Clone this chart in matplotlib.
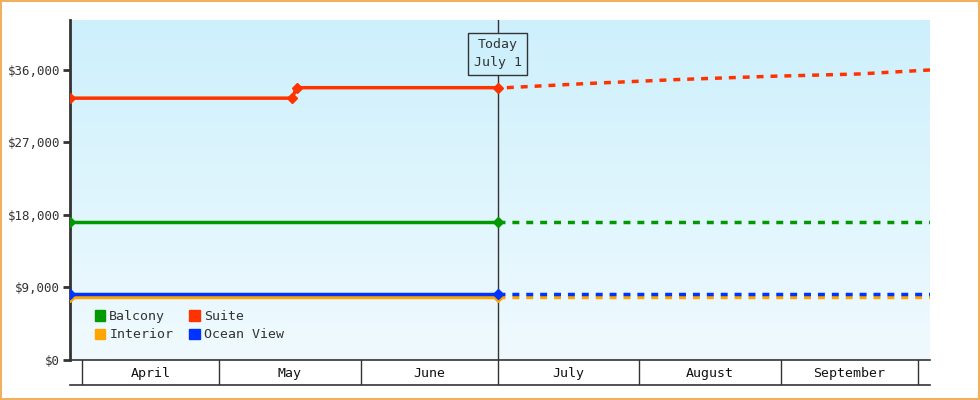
import matplotlib
matplotlib.use("Agg")
import matplotlib.pyplot as plt
import numpy as np
from matplotlib.patches import Rectangle

plt.rcParams['font.family'] = ['DejaVu Sans Mono']

# days relative to April 1
months = ["April", "May", "June", "July", "August", "September"]
month_starts = [0, 30, 61, 91, 122, 153, 183]
x_min, x_max = -2.6, 185.6
today = 91

suite_x = [-2.6, 46, 47, 91]
suite_y = [32500, 32500, 33800, 33800]
suite_fx = [91, 93, 110, 130, 150, 170, 185.6]
suite_fy = [33800, 33800, 34300, 34800, 35200, 35500, 36000]
balcony = 17100
ocean = 8200
interior = 7800

ORANGE_RED = "#ff3300"
GREEN = "#009900"
BLUE = "#0033ff"
AMBER = "#ffa500"

fig = plt.figure(figsize=(9.8, 4), dpi=100)
fig.patches.append(Rectangle((0.001, 0.002), 0.998, 0.996, transform=fig.transFigure,
                             fill=False, edgecolor="#f0b060", lw=1.5))
ax = fig.add_axes([70/980, 40/400, 860/980, 340/400])
ax.set_xlim(x_min, x_max)
ax.set_ylim(0, 42200)
grad = np.linspace(0, 1, 256).reshape(-1, 1)
from matplotlib.colors import LinearSegmentedColormap
cm = LinearSegmentedColormap.from_list("g", ["#f0fafe", "#cdf0fc"])
ax.imshow(grad, aspect="auto", cmap=cm, extent=[x_min, x_max, 0, 42200], origin="lower", zorder=0)

for k in ["top", "right", "bottom"]:
    ax.spines[k].set_visible(False)
ax.spines["left"].set_color("#333333")
ax.spines["left"].set_linewidth(2)
ax.set_yticks([0, 9000, 18000, 27000, 36000])
ax.set_yticklabels(["$0", "$9,000", "$18,000", "$27,000", "$36,000"], fontsize=9, color="#333333")
ax.tick_params(axis="y", length=5, width=2, color="#333333", pad=2)
ax.set_xticks([])

kw = dict(lw=2.5, marker="D", markersize=5, markevery=None)
ax.plot([x_min, today], [interior]*2, color=AMBER, marker="D", ms=5, lw=2.5, zorder=3)
ax.plot([today, x_max], [interior]*2, color=AMBER, lw=2.5, ls=(0, (2, 2)), zorder=3)
ax.plot([x_min, today], [ocean]*2, color=BLUE, marker="D", ms=5, lw=2.5, zorder=3)
ax.plot([today, x_max], [ocean]*2, color=BLUE, lw=2.5, ls=(0, (2, 2)), zorder=3)
ax.plot([x_min, today], [balcony]*2, color=GREEN, marker="D", ms=5, lw=2.5, zorder=3)
ax.plot([today, x_max], [balcony]*2, color=GREEN, lw=2.5, ls=(0, (2, 2)), zorder=3)
ax.plot(suite_x, suite_y, color=ORANGE_RED, marker="D", ms=5, lw=2.5, zorder=3)
ax.plot(suite_fx[1:], suite_fy[1:], color=ORANGE_RED, lw=2.5, ls=(0, (2, 2)), zorder=3)

ax.axvline(today, color="#333333", lw=1, zorder=2)
ax.text(today, 38000, "Today\nJuly 1", ha="center", va="center", fontsize=9.5, color="#333333",
        linespacing=1.5, bbox=dict(boxstyle="square,pad=0.4", fc="#cdf0fc", ec="#333333"), zorder=5)

from matplotlib.lines import Line2D
from matplotlib.patches import Patch
handles = [Patch(color=GREEN), Patch(color=AMBER), Patch(color=ORANGE_RED), Patch(color=BLUE)]
labels = ["Balcony", "Interior", "Suite", "Ocean View"]
ax.legend(handles, labels, ncol=2, loc="lower left", bbox_to_anchor=(0.015, 0.02), frameon=False,
          fontsize=9.5, handlelength=0.8, handleheight=0.8, handletextpad=0.3, columnspacing=1.2,
          labelspacing=0.4, labelcolor="#333333")

# month band
bx = fig.add_axes([70/980, 15/400, 860/980, 25/400])
bx.set_xlim(x_min, x_max)
bx.set_ylim(0, 1)
bx.axis("off")
bx.plot([x_min, x_max], [1, 1], color="#333333", lw=1.2, clip_on=False)
bx.plot([x_min, x_max], [0, 0], color="#333333", lw=1.2, clip_on=False)
for s in month_starts:
    bx.plot([s, s], [0, 1], color="#333333", lw=1)
for i, m in enumerate(months):
    bx.text((month_starts[i] + month_starts[i+1]) / 2, 0.45, m, ha="center", va="center",
            fontsize=9.5, color="#111111")

fig.savefig("out.png", dpi=100)
